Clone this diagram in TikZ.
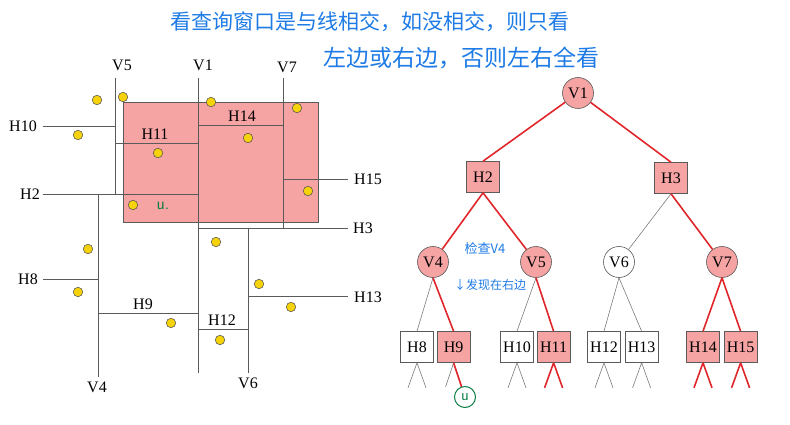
\documentclass[tikz,border=0pt]{standalone}
\usepackage{fontspec}
\setmainfont{Liberation Serif}
\newfontfamily\cjk{Noto Sans CJK SC}
\usepackage{xcolor}
\definecolor{hitpink}{HTML}{F5A3A3}
\definecolor{hitred}{HTML}{E0262B}
\definecolor{linegray}{HTML}{5A5A5A}
\definecolor{dotyellow}{HTML}{F5D20A}
\definecolor{inkblue}{HTML}{1E7BE6}
\definecolor{inkgreen}{HTML}{0B7D45}
\usetikzlibrary{
  positioning,
  calc
}

\begin{document}
\begin{tikzpicture}[
  x=1pt, y=-1pt,
  every node/.style={
    font=\fontsize{16}{18}\selectfont,
    inner sep=0pt
  },
  seg/.style={
    draw=linegray,
    line width=0.9pt
  },
  pt/.style={
    circle,
    draw=black!70,
    fill=dotyellow,
    minimum size=9.5pt,
    line width=0.5pt
  },
  vnode/.style={
    circle,
    draw=linegray,
    fill=hitpink,
    minimum size=31pt,
    line width=0.6pt
  },
  hnode/.style={
    rectangle,
    draw=linegray,
    fill=hitpink,
    minimum width=33pt,
    minimum height=31pt,
    line width=0.6pt
  },
  off/.style={fill=white},
  hit/.style={draw=hitred, line width=1.6pt},
  miss/.style={draw=linegray!80, line width=0.6pt},
  ink/.style={text=inkblue, font=\cjk\fontsize{21}{23}\selectfont},
  note/.style={text=inkblue, font=\cjk\fontsize{12}{14}\selectfont}
]
\useasboundingbox (0,0) rectangle (790,425);

% Handwritten remark
\node[ink] (remark1) at (370,22) {看查询窗口是与线相交，如没相交，则只看};
\node[ink, font=\cjk\fontsize{23}{25}\selectfont] (remark2) at (461,58) {左边或右边，否则左右全看};

% Query window
\draw[fill=hitpink, draw=linegray, line width=0.7pt] (123,102) rectangle (318,222);

% Split lines
\draw[seg] (115,78) -- (115,194);   % V5
\draw[seg] (198,78) -- (198,373);   % V1
\draw[seg] (283,78) -- (283,228);   % V7
\draw[seg] (43,126) -- (115,126);   % H10
\draw[seg] (115,143) -- (198,143);  % H11
\draw[seg] (198,125) -- (283,125);  % H14
\draw[seg] (283,179) -- (348,179);  % H15
\draw[seg] (43,194) -- (198,194);   % H2
\draw[seg] (98,194) -- (98,377);    % V4
\draw[seg] (198,228) -- (348,228);  % H3
\draw[seg] (248,228) -- (248,373);  % V6
\draw[seg] (43,279) -- (98,279);    % H8
\draw[seg] (98,313) -- (198,313);   % H9
\draw[seg] (198,329) -- (248,329);  % H12
\draw[seg] (248,296) -- (348,296);  % H13

% Line labels
\node (lV5)  at (122,65)  {V5};
\node (lV1)  at (203,65)  {V1};
\node (lV7)  at (287,67)  {V7};
\node (lH10) at (23,126)  {H10};
\node (lH11) at (155,134) {H11};
\node (lH14) at (242,116) {H14};
\node (lH15) at (368,179) {H15};
\node (lH2)  at (30,194)  {H2};
\node (lH3)  at (363,228) {H3};
\node (lH8)  at (28,279)  {H8};
\node (lH9)  at (143,304) {H9};
\node (lH12) at (222,320) {H12};
\node (lH13) at (368,297) {H13};
\node (lV4)  at (97,387)  {V4};
\node (lV6)  at (248,383) {V6};

% Points
\foreach \px/\py in {97/100, 123/97, 211/102, 297/108, 78/135, 158/153,
                     248/138, 308/191, 133/205, 88/249, 78/292, 171/323,
                     216/242, 259/284, 291/307, 220/340}
  \node[pt] at (\px,\py) {};
\node[text=inkgreen, font=\sffamily\fontsize{17}{19}\selectfont] (mark) at (163,206) {u.};

% Row 1: root
\node[vnode] (v1) at (578,93) {V1};

% Row 2
\node[hnode] (h2) at (483,177) {H2};
\node[hnode] (h3) at (671,178) {H3};

% Row 3
\node[vnode] (v4) at (433,262) {V4};
\node[vnode] (v5) at (536,262) {V5};
\node[vnode, off] (v6) at (619,262) {V6};
\node[vnode] (v7) at (722,262) {V7};

% Row 4: leaves
\node[hnode, off] (h8) at (417,347) {H8};
\node[hnode, right=3pt of h8] (h9) {H9};
\node[hnode, off] (h10) at (517,347) {H10};
\node[hnode, right=3pt of h10] (h11) {H11};
\node[hnode, off] (h12) at (604,347) {H12};
\node[hnode, off, right=4pt of h12] (h13) {H13};
\node[hnode] (h14) at (703,347) {H14};
\node[hnode, right=4pt of h14] (h15) {H15};

% Edges
\draw[hit]  (v1) -- (h2.north);
\draw[hit]  (v1) -- (h3.north);
\draw[hit]  (h2.south) -- (v4);
\draw[hit]  (h2.south) -- (v5);
\draw[miss] (h3.south) -- (v6);
\draw[hit]  (h3.south) -- (v7);
\draw[miss] (v4.south) -- (h8.north);
\draw[hit]  (v4.south) -- (h9.north);
\draw[miss] (v5.south) -- (h10.north);
\draw[hit]  (v5.south) -- (h11.north);
\draw[miss] (v6.south) -- (h12.north);
\draw[miss] (v6.south) -- (h13.north);
\draw[hit]  (v7.south) -- (h14.north);
\draw[hit]  (v7.south) -- (h15.north);

% Stubs below leaves
\foreach \n in {h8, h10, h12, h13}
  \draw[miss] (\n.south) -- ++(-9,25) (\n.south) -- ++(9,25);
\foreach \n in {h11, h14, h15}
  \draw[hit] (\n.south) -- ++(-9,25) (\n.south) -- ++(9,25);
\draw[miss] (h9.south) -- ++(-8,24);
\draw[hit]  (h9.south) -- ++(8,24);

% Notes
\node[note, font=\cjk\fontsize{13}{15}\selectfont] (check) at (485,249) {检查V4};
\node[note] (found) at (490,285) {↓发现在右边};
\node[circle, draw=inkgreen, line width=1pt, minimum size=21pt,
      text=inkgreen, font=\sffamily\fontsize{16}{18}\selectfont] (u) at (465,397) {u};

\end{tikzpicture}
\end{document}
